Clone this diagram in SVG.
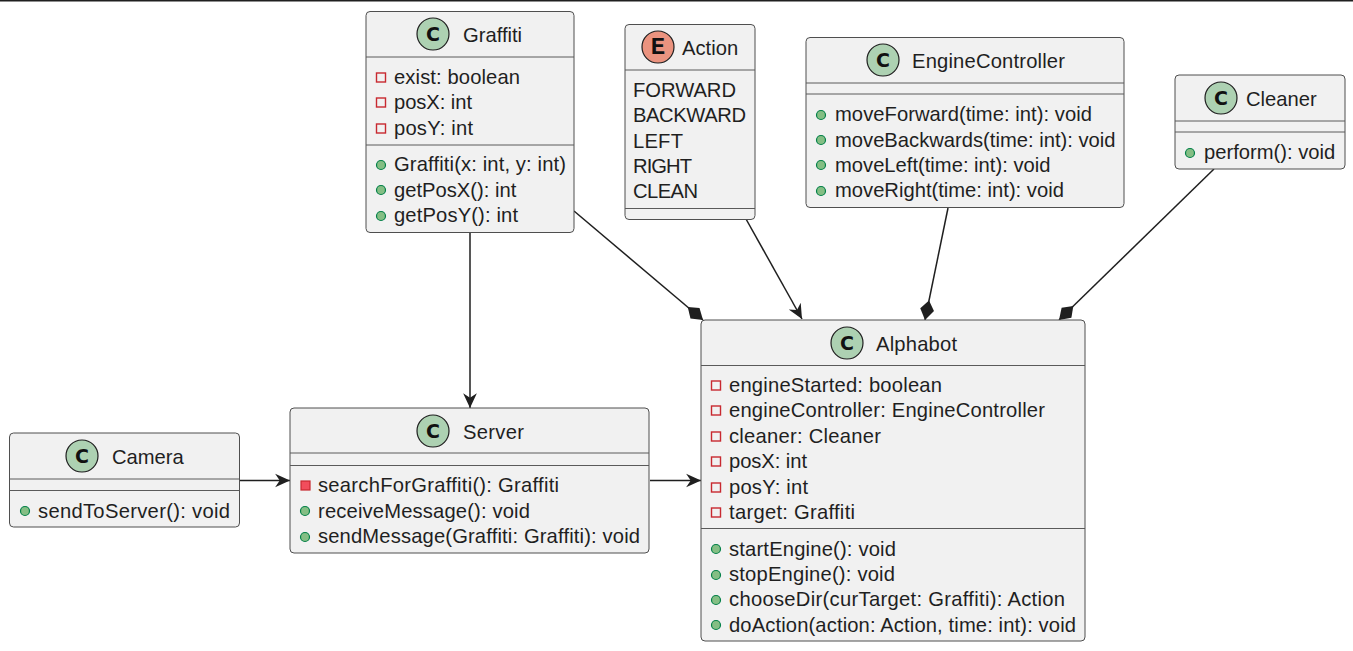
<svg xmlns="http://www.w3.org/2000/svg" width="1353" height="651" viewBox="0 0 1353 651">
<defs>
<style>
text{font-family:"Liberation Sans",Arial,sans-serif;font-size:20.2px;fill:#1f1f1f}
.box{fill:#f1f1f1;stroke:#4f4f4f;stroke-width:1}
.sep{stroke:#5a5a5a;stroke-width:1}
.badge{fill:#add1b2;stroke:#1f1f1f;stroke-width:1.2}
.badgeE{fill:#eb937f;stroke:#1f1f1f;stroke-width:1.2}
.bt{font-family:"DejaVu Sans",sans-serif;font-weight:bold;font-size:19px;fill:#111;text-anchor:middle}
.bte{font-family:"Liberation Mono",monospace;font-weight:bold;font-size:24px;fill:#111;text-anchor:middle}
.priv{fill:none;stroke:#c82930;stroke-width:1.4}
.privm{fill:#f24d5c;stroke:#c82930;stroke-width:1.2}
.pub{fill:#84be84;stroke:#038048;stroke-width:1.2}
.edge{fill:none;stroke:#1f1f1f;stroke-width:1.5}
</style>
<marker id="arrow" markerUnits="userSpaceOnUse" markerWidth="16" markerHeight="16" refX="13" refY="7" viewBox="0 0 14 14" orient="auto"><path d="M0 1 L13 7 L0 13 L4 7 Z" fill="#1f1f1f"/></marker>
<marker id="diamond" markerUnits="userSpaceOnUse" markerWidth="22" markerHeight="16" refX="20" refY="7" viewBox="0 0 22 16" orient="auto"><path d="M0 7 L9.500 0 L20 7 L9.500 14 Z" fill="#1f1f1f"/></marker>
</defs>
<rect width="1353" height="651" fill="#fff"/>
<rect x="0" y="0" width="1353" height="1.5" fill="#1f1f1f"/>
<g id="connectors">
<path class="edge" marker-end="url(#diamond)" d="M574 211 L703 320"/>
<path class="edge" marker-end="url(#arrow)" d="M746 219 L802 319"/>
<path class="edge" marker-end="url(#diamond)" d="M948 208 L925 320"/>
<path class="edge" marker-end="url(#diamond)" d="M1214 169 L1059 320"/>
<path class="edge" marker-end="url(#arrow)" d="M470 232 L470 408"/>
<path class="edge" marker-end="url(#arrow)" d="M240 480.500 L290 480.500"/>
<path class="edge" marker-end="url(#arrow)" d="M650 480.500 L701 480.500"/>
</g>
<g id="Graffiti">
<rect class="box" x="366" y="11.500" width="208" height="221" rx="4"/>
<line class="sep" x1="366" x2="574" y1="57" y2="57"/><line class="sep" x1="366" x2="574" y1="145" y2="145"/>
<circle class="badge" cx="433" cy="34" r="16"/><text class="bt" x="433" y="41">C</text>
<text x="463" y="42">Graffiti</text>
<rect class="priv" x="376.500" y="73" width="9" height="9"/><text x="394" y="84" textLength="126">exist: boolean</text>
<rect class="priv" x="376.500" y="98" width="9" height="9"/><text x="394" y="109" textLength="78">posX: int</text>
<rect class="priv" x="376.500" y="124" width="9" height="9"/><text x="394" y="135" textLength="79">posY: int</text>
<circle class="pub" cx="381" cy="165" r="4.500"/><text x="394" y="171" textLength="172">Graffiti(x: int, y: int)</text>
<circle class="pub" cx="381" cy="190" r="4.500"/><text x="394" y="197">getPosX(): int</text>
<circle class="pub" cx="381" cy="216" r="4.500"/><text x="394" y="222" textLength="124">getPosY(): int</text>
</g>
<g id="Action">
<rect class="box" x="625" y="24.500" width="130" height="195" rx="4"/>
<line class="sep" x1="625" x2="755" y1="70" y2="70"/><line class="sep" x1="625" x2="755" y1="208.500" y2="208.500"/>
<circle class="badgeE" cx="658" cy="47" r="16"/><text class="bte" x="658" y="54">E</text>
<text x="682" y="55">Action</text>
<text x="633" y="97" textLength="103">FORWARD</text>
<text x="633" y="122" textLength="113">BACKWARD</text>
<text x="633" y="148" textLength="50">LEFT</text>
<text x="633" y="173" textLength="59">RIGHT</text>
<text x="633" y="198" textLength="65">CLEAN</text>
</g>
<g id="EngineController">
<rect class="box" x="806" y="37.500" width="318" height="170" rx="4"/>
<line class="sep" x1="806" x2="1124" y1="83" y2="83"/><line class="sep" x1="806" x2="1124" y1="94" y2="94"/>
<circle class="badge" cx="883" cy="60" r="16"/><text class="bt" x="883" y="67">C</text>
<text x="912" y="68" textLength="153">EngineController</text>
<circle class="pub" cx="821" cy="115" r="4.500"/><text x="835" y="121" textLength="257">moveForward(time: int): void</text>
<circle class="pub" cx="821" cy="140" r="4.500"/><text x="835" y="147">moveBackwards(time: int): void</text>
<circle class="pub" cx="821" cy="165" r="4.500"/><text x="835" y="172">moveLeft(time: int): void</text>
<circle class="pub" cx="821" cy="191" r="4.500"/><text x="835" y="197">moveRight(time: int): void</text>
</g>
<g id="Cleaner">
<rect class="box" x="1175" y="75" width="170" height="94" rx="4"/>
<line class="sep" x1="1175" x2="1345" y1="121" y2="121"/><line class="sep" x1="1175" x2="1345" y1="132" y2="132"/>
<circle class="badge" cx="1221" cy="98" r="16"/><text class="bt" x="1221" y="105">C</text>
<text x="1246" y="106">Cleaner</text>
<circle class="pub" cx="1190" cy="153" r="4.500"/><text x="1204" y="159">perform(): void</text>
</g>
<g id="Alphabot">
<rect class="box" x="701" y="320" width="384" height="321" rx="4"/>
<line class="sep" x1="701" x2="1085" y1="365.500" y2="365.500"/><line class="sep" x1="701" x2="1085" y1="528.500" y2="528.500"/>
<circle class="badge" cx="847" cy="343" r="16"/><text class="bt" x="847" y="350">C</text>
<text x="876" y="351" textLength="81">Alphabot</text>
<rect class="priv" x="711.500" y="381" width="9" height="9"/><text x="729" y="392" textLength="213">engineStarted: boolean</text>
<rect class="priv" x="711.500" y="406" width="9" height="9"/><text x="729" y="417" textLength="316">engineController: EngineController</text>
<rect class="priv" x="711.500" y="432" width="9" height="9"/><text x="729" y="443" textLength="152">cleaner: Cleaner</text>
<rect class="priv" x="711.500" y="457" width="9" height="9"/><text x="729" y="468" textLength="78">posX: int</text>
<rect class="priv" x="711.500" y="483" width="9" height="9"/><text x="729" y="494" textLength="79">posY: int</text>
<rect class="priv" x="711.500" y="508" width="9" height="9"/><text x="729" y="519" textLength="126">target: Graffiti</text>
<circle class="pub" cx="716" cy="549" r="4.500"/><text x="729" y="556" textLength="167">startEngine(): void</text>
<circle class="pub" cx="716" cy="575" r="4.500"/><text x="729" y="581" textLength="166">stopEngine(): void</text>
<circle class="pub" cx="716" cy="600" r="4.500"/><text x="729" y="606" textLength="336">chooseDir(curTarget: Graffiti): Action</text>
<circle class="pub" cx="716" cy="625" r="4.500"/><text x="729" y="632" textLength="347">doAction(action: Action, time: int): void</text>
</g>
<g id="Server">
<rect class="box" x="290" y="408" width="359" height="145" rx="4"/>
<line class="sep" x1="290" x2="649" y1="453" y2="453"/><line class="sep" x1="290" x2="649" y1="465.500" y2="465.500"/>
<circle class="badge" cx="433" cy="431" r="16"/><text class="bt" x="433" y="438">C</text>
<text x="463" y="439" textLength="61">Server</text>
<rect class="privm" x="301" y="481" width="9" height="9"/><text x="318" y="492" textLength="241">searchForGraffiti(): Graffiti</text>
<circle class="pub" cx="305" cy="511" r="4.500"/><text x="318" y="518" textLength="212">receiveMessage(): void</text>
<circle class="pub" cx="305" cy="537" r="4.500"/><text x="318" y="543" textLength="322">sendMessage(Graffiti: Graffiti): void</text>
</g>
<g id="Camera">
<rect class="box" x="9.500" y="433" width="230" height="94" rx="4"/>
<line class="sep" x1="9.500" x2="239.500" y1="479" y2="479"/><line class="sep" x1="9.500" x2="239.500" y1="490.500" y2="490.500"/>
<circle class="badge" cx="82" cy="456" r="16"/><text class="bt" x="82" y="463">C</text>
<text x="112" y="464">Camera</text>
<circle class="pub" cx="25" cy="511" r="4.500"/><text x="38" y="518" textLength="192">sendToServer(): void</text>
</g>
</svg>
